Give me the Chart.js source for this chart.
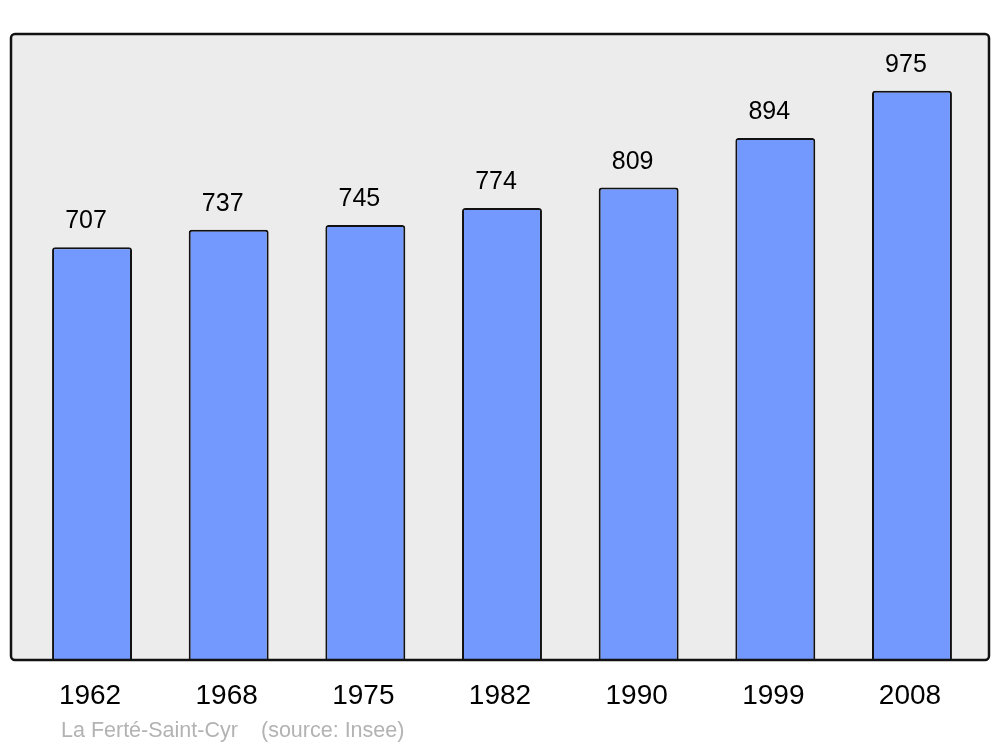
<!DOCTYPE html>
<html>
<head>
<meta charset="utf-8">
<script src="https://cdn.jsdelivr.net/npm/chart.js@4"></script>
<style>
  html, body { margin: 0; padding: 0; background: #fff; }
  #wrap { width: 1000px; height: 747px; }
</style>
</head>
<body>
<div id="wrap"><canvas id="popChart" width="1000" height="747"></canvas></div>
<script>
var years = ["1962", "1968", "1975", "1982", "1990", "1999", "2008"];
var population = [707, 737, 745, 774, 809, 894, 975];
var commune = "La Ferté-Saint-Cyr";
var source = "(source: Insee)";

// cadre gris derrière les barres
var framePlugin = {
    id: "frame",
    beforeDatasetsDraw: function(chart) {
        var ctx = chart.ctx;
        var a = chart.chartArea;
        ctx.save();
        ctx.beginPath();
        ctx.roundRect(11, a.top, 978, a.bottom - a.top, 4);
        ctx.fillStyle = "#ececec";
        ctx.fill();
        ctx.restore();
    },
    afterDatasetsDraw: function(chart) {
        var ctx = chart.ctx;
        var a = chart.chartArea;
        ctx.save();
        ctx.beginPath();
        ctx.roundRect(11, a.top, 978, a.bottom - a.top, 4);
        ctx.lineWidth = 2.5;
        ctx.strokeStyle = "#111";
        ctx.stroke();

        // valeurs au-dessus des barres
        var meta = chart.getDatasetMeta(0);
        ctx.font = "25px 'Liberation Sans', Arial, sans-serif";
        ctx.fillStyle = "#000";
        ctx.textAlign = "center";
        ctx.textBaseline = "alphabetic";
        meta.data.forEach(function(bar, i) {
            ctx.fillText(String(population[i]), bar.x - 6, bar.y - 19);
        });

        // pied
        ctx.font = "21.5px 'Liberation Sans', Arial, sans-serif";
        ctx.fillStyle = "#b3b3b3";
        ctx.textAlign = "left";
        ctx.fillText(commune, 61, 737);
        ctx.fillText(source, 261, 737);
        ctx.restore();
    }
};

var ctx = document.getElementById("popChart").getContext("2d");

var myChart = new Chart(ctx, {
    type: "bar",
    data: {
        labels: years,
        datasets: [{
            data: population,
            backgroundColor: "#7399ff",
            borderColor: "#111",
            borderWidth: 2,
            borderRadius: 3,
            borderSkipped: "bottom",
            barPercentage: 0.585,
            categoryPercentage: 1
        }]
    },
    options: {
        responsive: false,
        animation: false,
        layout: {
            padding: { top: 34, left: 23.7, right: 19.7, bottom: 0 }
        },
        plugins: {
            legend: { display: false },
            tooltip: { enabled: false }
        },
        scales: {
            x: {
                grid: { display: false, drawTicks: false },
                border: { display: false },
                ticks: {
                    color: "#000",
                    padding: 19,
                    labelOffset: -2,
                    font: { family: "'Liberation Sans', Arial, sans-serif", size: 28 }
                },
                afterFit: function(scale) { scale.height = 87; }
            },
            y: {
                display: false,
                min: 0,
                max: 1072
            }
        }
    },
    plugins: [framePlugin]
});
</script>
</body>
</html>
